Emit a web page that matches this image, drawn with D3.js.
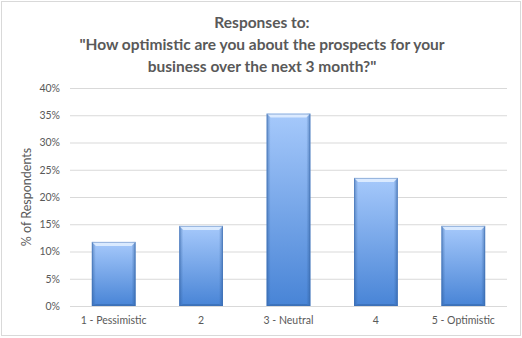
<!DOCTYPE html>
<html>
<head>
<meta charset="utf-8">
<script src="https://cdn.jsdelivr.net/npm/d3@7"></script>
<style>
  html, body { margin: 0; padding: 0; background: #fff; }
  svg { display: block; }
</style>
</head>
<body>
<svg id="chart" width="522" height="338"></svg>
<script>
// Survey answers on a 1–5 optimism scale, share of respondents
const categories = ["1 - Pessimistic", "2", "3 - Neutral", "4", "5 - Optimistic"];
const values = [0.1176, 0.147, 0.353, 0.235, 0.147];
const yTicks = [0, 0.05, 0.10, 0.15, 0.20, 0.25, 0.30, 0.35, 0.40];
const titleLines = ["Responses to:", "\"How optimistic are you about the prospects for your", "business over the next 3 month?\""];
const yAxisTitle = "% of Respondents";

const W = 522, H = 338;
const margin = { top: 88, right: 15, bottom: 32, left: 70 };
const font = "Lato, 'Open Sans', sans-serif";
const textColor = "#595959";

const svg = d3.select("#chart");

// chart area frame
svg.append("rect")
  .attr("x", 1.5).attr("y", 1.5)
  .attr("width", W - 3).attr("height", H - 4)
  .attr("fill", "#fff").attr("stroke", "#d9d9d9").attr("stroke-width", 1);

const x = d3.scaleBand()
  .domain(categories)
  .range([margin.left, W - margin.right])
  .paddingInner(0.5).paddingOuter(0.25);

const y = d3.scaleLinear()
  .domain([0, 0.40])
  .range([H - margin.bottom, margin.top]);

// gradients for the bevelled bars
const defs = svg.append("defs");
const grad = defs.append("linearGradient").attr("id", "barFill")
  .attr("x1", 0).attr("y1", 0).attr("x2", 0).attr("y2", 1);
grad.append("stop").attr("offset", "0%").attr("stop-color", "#a6c9fb");
grad.append("stop").attr("offset", "100%").attr("stop-color", "#4884d6");

const sideL = defs.append("linearGradient").attr("id", "sideL")
  .attr("x1", 0).attr("y1", 0).attr("x2", 1).attr("y2", 0);
sideL.append("stop").attr("offset", "0%").attr("stop-color", "#2f5f9e").attr("stop-opacity", 0.55);
sideL.append("stop").attr("offset", "100%").attr("stop-color", "#2f5f9e").attr("stop-opacity", 0);
const sideR = defs.append("linearGradient").attr("id", "sideR")
  .attr("x1", 1).attr("y1", 0).attr("x2", 0).attr("y2", 0);
sideR.append("stop").attr("offset", "0%").attr("stop-color", "#2f5f9e").attr("stop-opacity", 0.6);
sideR.append("stop").attr("offset", "100%").attr("stop-color", "#2f5f9e").attr("stop-opacity", 0);

// gridlines + y axis labels
const yAxis = d3.axisLeft(y)
  .tickValues(yTicks)
  .tickSize(-(W - margin.right - margin.left))
  .tickFormat(d3.format(".0%"))
  .tickPadding(10);

const gy = svg.append("g")
  .attr("transform", `translate(${margin.left},0)`)
  .call(yAxis);
gy.select(".domain").remove();
gy.selectAll(".tick line").attr("stroke", "#d9d9d9").attr("stroke-width", 1);
gy.selectAll(".tick text")
  .attr("fill", textColor)
  .style("font-family", font)
  .style("font-size", "10.5px");

// bars
const bars = svg.append("g").selectAll("g.bar")
  .data(values)
  .join("g").attr("class", "bar");

bars.each(function (v, i) {
  const g = d3.select(this);
  const bx = x(categories[i]);
  const bw = x.bandwidth();
  const by = y(v);
  const bh = y(0) - by;
  const bev = 4;
  g.append("rect")
    .attr("x", bx).attr("y", by).attr("width", bw).attr("height", bh)
    .attr("fill", "url(#barFill)");
  // darker side edges
  g.append("rect").attr("x", bx).attr("y", by).attr("width", bev).attr("height", bh)
    .attr("fill", "url(#sideL)");
  g.append("rect").attr("x", bx + bw - bev).attr("y", by).attr("width", bev).attr("height", bh)
    .attr("fill", "url(#sideR)");
  // light top bevel
  g.append("path")
    .attr("d", `M${bx},${by} L${bx + bw},${by} L${bx + bw - bev},${by + bev} L${bx + bev},${by + bev} Z`)
    .attr("fill", "#e4f0ff").attr("opacity", 0.85);
  // bottom shade
  g.append("path")
    .attr("d", `M${bx},${by + bh} L${bx + bw},${by + bh} L${bx + bw - bev},${by + bh - 2} L${bx + bev},${by + bh - 2} Z`)
    .attr("fill", "#2f5f9e").attr("opacity", 0.45);
  g.append("rect")
    .attr("x", bx + 0.5).attr("y", by + 0.5).attr("width", bw - 1).attr("height", bh - 1)
    .attr("fill", "none").attr("stroke", "#3d6fb3").attr("stroke-opacity", 0.45);
});

// x axis labels
const xAxis = d3.axisBottom(x).tickSize(0).tickPadding(11);
const gx = svg.append("g")
  .attr("transform", `translate(0,${y(0)})`)
  .call(xAxis);
gx.select(".domain").remove();
gx.selectAll(".tick text")
  .attr("fill", textColor)
  .style("font-family", font)
  .style("font-size", "10.5px");

// y axis title
svg.append("text")
  .attr("transform", `translate(31,${(y(0) + y(0.40)) / 2}) rotate(-90)`)
  .attr("text-anchor", "middle")
  .attr("fill", textColor)
  .style("font-family", font)
  .style("font-size", "12.5px")
  .text(yAxisTitle);

// title
svg.append("g").selectAll("text")
  .data(titleLines)
  .join("text")
  .attr("x", W / 2 + 1)
  .attr("y", (d, i) => 28 + i * 22)
  .attr("text-anchor", "middle")
  .attr("fill", textColor)
  .style("font-family", font)
  .style("font-weight", "bold")
  .style("font-size", "15.5px")
  .text(d => d);
</script>
</body>
</html>
